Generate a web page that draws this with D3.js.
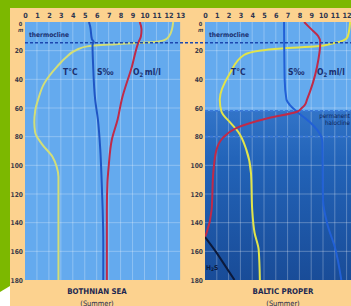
<!DOCTYPE html>
<html><head><meta charset="utf-8">
<script src="https://cdn.jsdelivr.net/npm/d3@7"></script>
<style>
body{margin:0;background:#fff;overflow:hidden}
text{font-family:"DejaVu Sans Condensed","Liberation Sans Narrow","DejaVu Sans",sans-serif;font-weight:bold}
</style></head>
<body><svg id="c" width="351" height="306"></svg>
<script>
// ---- tick labels ----
const xTickValues1 = [0,1,2,3,4,5,6,7,8,9,10,11,12,13];
const xTickValues2 = [0,1,2,3,4,5,6,7,8,9,10,11,12];
const depthTickValues = [20,40,60,80,100,120,140,160,180];
const gridDepths = [20,40,60,80,100,120,140,160];
const gridUnits = [1,2,3,4,5,6,7,8,9,10,11,12];

// ---- Bothnian Sea (summer) ----
const bsTempDepth = [0,5,10,12.5,14,15.5,17,19.5,25,31,43,54,62,70,77,85,94,101,108,120,180];
const bsTempValue = [12.4,12.3,12.05,11.7,10.8,7.6,5.2,4.3,3.4,2.7,1.6,1.1,0.85,0.78,0.85,1.4,2.3,2.65,2.8,2.8,2.8];
const bsSalDepth = [0,3,12,14,16,30,54,68,89,112,131,155,180];
const bsSalValue = [5.35,5.45,5.6,5.75,5.65,5.7,5.87,6.1,6.3,6.42,6.5,6.55,6.55];
const bsOxyDepth = [0,5,10,14,31,54,68,82,101,112,131,180];
const bsOxyValue = [9.6,9.75,9.7,9.5,8.95,8.1,7.75,7.27,7.0,6.9,6.85,6.85];

// ---- Baltic Proper (summer) ----
const bpTempDepth = [0,10,13,15,17,18.5,20,23,36,54,62.6,70.7,76.5,89,105.6,131,147,159,180];
const bpTempValue = [12.3,12.1,11.7,10.8,9.5,6.5,4.6,3.3,2.1,1.25,1.4,2.2,2.8,3.5,3.9,4.0,4.2,4.55,4.65];
const bpSalDepth = [0,40,54,58,62.6,70,80,84,124,142,157,180];
const bpSalValue = [6.7,6.75,6.9,7.2,7.8,8.9,9.85,9.95,10.0,10.4,11.0,11.55];
const bpOxyDepth = [0,5,10,14,31,54,58,60,62.6,67,74,81,89,105.6,131,147,150];
const bpOxyValue = [8.4,9.0,9.6,9.77,9.5,8.65,8.45,8.2,7.8,5.4,2.65,1.5,0.98,0.7,0.56,0.14,0];
const bpH2sDepth = [150,160,170,180];
const bpH2sValue = [0,0.9,1.7,2.5];

const thermoclineDepth = 14.5;
const haloclineDepths = [62,80];

const svg = d3.select("#c");
const W = 351, H = 306;

// background: green frame, peach card
svg.append("rect").attr("width",W).attr("height",H).attr("fill","#7cb800");
svg.append("rect").attr("x",10).attr("y",8).attr("width",W-10).attr("height",H-8).attr("fill","#fcd28f");
svg.append("path").attr("d","M0,292 L10,286 L10,306 L0,306 Z").attr("fill","#ffffff");

const y = d3.scaleLinear().domain([0,180]).range([22,280]);
const panels = [
  {x0:25, step:11.95, id:"p1", title:"BOTHNIAN SEA", tx:97, ticks:xTickValues1,
   temp:[bsTempDepth,bsTempValue], sal:[bsSalDepth,bsSalValue], oxy:[bsOxyDepth,bsOxyValue],
   tempColor:"#d2de78", salColor:"#1f55c4", oxyColor:"#c02a48",
   lab:{t:63,s:97,o:133}},
  {x0:205, step:11.8, id:"p2", title:"BALTIC PROPER", tx:283, ticks:xTickValues2,
   temp:[bpTempDepth,bpTempValue], sal:[bpSalDepth,bpSalValue], oxy:[bpOxyDepth,bpOxyValue],
   tempColor:"#e2e44a", salColor:"#2160d6", oxyColor:"#c02a48",
   lab:{t:231,s:288,o:317}}
];

const defs = svg.append("defs");
const g2 = defs.append("linearGradient").attr("id","deep").attr("x1",0).attr("x2",0).attr("y1",0).attr("y2",1);
g2.append("stop").attr("offset","0%").attr("stop-color","#3274c8");
g2.append("stop").attr("offset","30%").attr("stop-color","#2263b8");
g2.append("stop").attr("offset","100%").attr("stop-color","#194c98");

panels.forEach(p => {
  const x = d3.scaleLinear().domain([0,13]).range([p.x0, p.x0+13*p.step]);
  const left = x(0), right = Math.min(x(13), 351), top = y(0), bottom = y(180);
  defs.append("clipPath").attr("id","clip-"+p.id).append("rect")
    .attr("x",left).attr("y",top).attr("width",right-left).attr("height",bottom-top);
  const g = svg.append("g").attr("clip-path","url(#clip-"+p.id+")");
  g.append("rect").attr("x",left).attr("y",top).attr("width",right-left).attr("height",bottom-top).attr("fill","#64aaee");
  if (p.id==="p2") {
    g.append("rect").attr("x",left).attr("y",y(haloclineDepths[0])).attr("width",right-left)
      .attr("height",bottom-y(haloclineDepths[0])).attr("fill","url(#deep)");
  }
  // grid
  g.selectAll(".gv").data(gridUnits).join("line")
    .attr("x1",d=>x(d)).attr("x2",d=>x(d)).attr("y1",top).attr("y2",bottom)
    .attr("stroke","#ffffff").attr("stroke-opacity",0.28).attr("stroke-width",1);
  g.selectAll(".gh").data(gridDepths).join("line")
    .attr("x1",left).attr("x2",right).attr("y1",d=>y(d)).attr("y2",d=>y(d))
    .attr("stroke","#ffffff").attr("stroke-opacity",0.28).attr("stroke-width",1);
  // halocline dashed lines
  if (p.id==="p2") {
    g.selectAll(".dash").data(haloclineDepths).join("line")
      .attr("x1",left).attr("x2",right).attr("y1",d=>y(d)).attr("y2",d=>y(d))
      .attr("stroke","#3a78d8").attr("stroke-width",1.6).attr("stroke-dasharray","3,2");
  }

  const line = d3.line().x(d=>x(d[1])).y(d=>y(d[0])).curve(d3.curveMonotoneY);
  const series = [
    [p.temp,p.tempColor],[p.sal,p.salColor],[p.oxy,p.oxyColor]
  ];
  if (p.id==="p2") series.push([[bpH2sDepth,bpH2sValue],"#0c1a3c"]);
  series.forEach(([s,c]) => {
    const pts = s[0].map((d,i)=>[d,s[1][i]]);
    g.append("path").datum(pts).attr("d",line).attr("fill","none")
      .attr("stroke",c).attr("stroke-width",2).attr("stroke-linejoin","round");
  });

  // axes
  const ax = svg.append("g").attr("transform",`translate(0,${top})`)
    .call(d3.axisTop(x).tickValues(p.ticks).tickSize(0).tickPadding(4));
  ax.select(".domain").remove();
  ax.selectAll("text").attr("font-size",7.2).attr("fill","#2c3550")
    .style("font-family","'DejaVu Sans Condensed',sans-serif").style("font-weight","bold");
  const ay = svg.append("g").attr("transform",`translate(${left},0)`)
    .call(d3.axisLeft(y).tickValues(depthTickValues).tickSize(0).tickPadding(2));
  ay.select(".domain").remove();
  ay.selectAll("text").attr("font-size",6.6).attr("fill","#3a3a4a")
    .style("font-family","'DejaVu Sans Condensed',sans-serif").style("font-weight","bold");
  svg.append("text").attr("x",left-4.5).attr("y",top+3.6).attr("text-anchor","middle")
    .attr("font-size",5.6).attr("fill","#3a3a4a").text("0");
  svg.append("text").attr("x",left-4.5).attr("y",top+9.6).attr("text-anchor","middle")
    .attr("font-size",5.6).attr("font-style","italic").attr("fill","#3a3a4a").text("m");

  // labels
  const lab = svg.append("g").attr("fill","#1a2f6e");
  lab.append("text").attr("x",left+4).attr("y",y(thermoclineDepth)-5.5).attr("font-size",6.6)
    .attr("fill","#1a2f6e").text("thermocline");
  const ly = y(0)+53;
  lab.append("text").attr("x",p.lab.t).attr("y",ly).attr("font-size",8.5).text("T°C");
  lab.append("text").attr("x",p.lab.s).attr("y",ly).attr("font-size",8.5).text("S‰");
  const o = lab.append("text").attr("x",p.lab.o).attr("y",ly).attr("font-size",8.5);
  o.append("tspan").text("O");
  o.append("tspan").attr("font-size",6).attr("dy",1.5).text("2");
  o.append("tspan").attr("dy",-1.5).attr("dx",1.5).text("ml/l");

  svg.append("text").attr("x",p.tx).attr("y",294).attr("text-anchor","middle")
    .attr("font-size",7.8).attr("fill","#1b2750").text(p.title);
  svg.append("text").attr("x",p.tx).attr("y",305.5).attr("text-anchor","middle")
    .attr("font-size",7.4).attr("fill","#1b2750").style("font-weight","normal").text("(Summer)");

  if (p.id==="p2") {
    lab.append("text").attr("x",350).attr("y",y(haloclineDepths[0])+7).attr("font-size",6.2)
      .attr("text-anchor","end").attr("fill","#0d1f55").style("font-weight","normal").text("permanent");
    lab.append("text").attr("x",350).attr("y",y(haloclineDepths[0])+14.5).attr("font-size",6.2)
      .attr("text-anchor","end").attr("fill","#0d1f55").style("font-weight","normal").text("halocline");
    const h = lab.append("text").attr("x",206).attr("y",y(170)+4).attr("font-size",6.6).attr("fill","#0c1a3c");
    h.append("tspan").text("H");
    h.append("tspan").attr("font-size",4.8).attr("dy",1).text("2");
    h.append("tspan").attr("dy",-1).text("S");
  }
});

// thermocline dashed line running across both panels
svg.append("line").attr("x1",25).attr("x2",351)
  .attr("y1",y(thermoclineDepth)).attr("y2",y(thermoclineDepth))
  .attr("stroke","#1c47b0").attr("stroke-width",1.6).attr("stroke-dasharray","3,2");
</script>
</body></html>
